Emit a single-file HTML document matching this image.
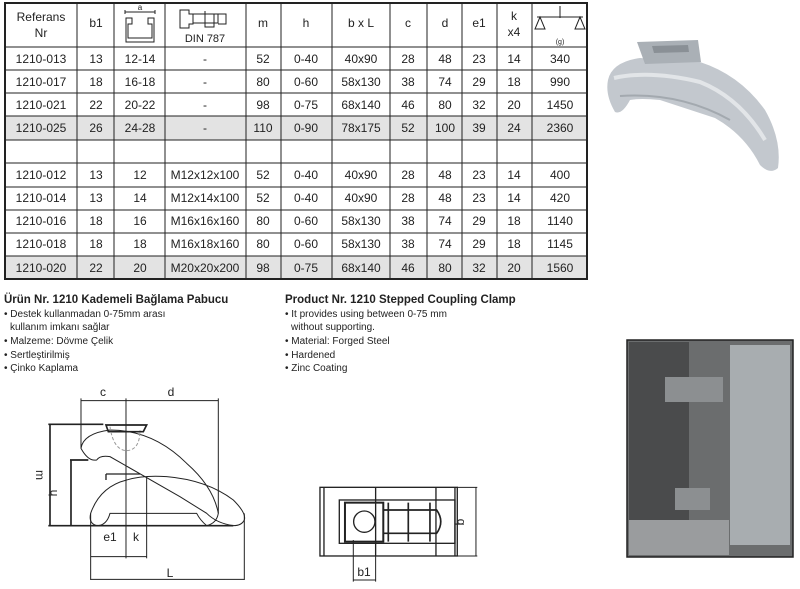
<!DOCTYPE html>
<html><head><meta charset="utf-8"><style>
html,body{margin:0;padding:0;background:#fff;width:800px;height:589px;overflow:hidden}
svg{display:block;font-family:"Liberation Sans",Arial,sans-serif}
</style></head><body>
<svg width="800" height="589" viewBox="0 0 800 589" xmlns="http://www.w3.org/2000/svg">
<rect x="5" y="116" width="582" height="24" fill="#e3e3e3"/>
<rect x="5" y="256" width="582" height="23" fill="#e3e3e3"/>
<g stroke="#222" stroke-width="1" fill="none">
<rect x="5" y="3" width="582" height="276" stroke-width="2"/>
<path d="M5 47H587M5 70H587M5 93H587M5 116H587M5 140H587M5 163H587M5 187H587M5 210H587M5 233H587M5 256H587"/>
<path d="M77 3V279M114 3V279M165 3V279M246 3V279M281 3V279M332 3V279M390 3V279M427 3V279M462 3V279M497 3V279M532 3V279" />
</g>
<g font-size="12" fill="#222" text-anchor="middle">
<text x="41" y="21">Referans</text><text x="41" y="37">Nr</text>
<text x="96" y="27">b1</text>
<text x="205" y="42" font-size="11">DIN 787</text>
<text x="263" y="27">m</text><text x="306" y="27">h</text><text x="361" y="27">b x L</text>
<text x="408" y="27">c</text><text x="445" y="27">d</text><text x="479" y="27">e1</text>
<text x="514" y="20">k</text><text x="514" y="36">x4</text>
<text x="560" y="44" font-size="7">(g)</text>
</g>
<g stroke="#222" fill="none" stroke-width="1">
<path d="M125 12H155M125 10V14M155 10V14"/>
<path d="M126 18H132V24H128V38H152V24H148V18H154V42H126Z"/>
<path d="M180 10H189V14H193V24H189V28H180Z M193 14H218V23H193 M205 11V27H214V14 M218 14H226V24H218"/>
<path d="M560 6V18M537 17H583M540 17L535 29H545Z M580 17L575 29H585Z"/>
</g>
<text x="140" y="10" font-size="8" text-anchor="middle" fill="#222">a</text>
<g font-size="12" fill="#222" text-anchor="middle">
<text y="63"><tspan x="41">1210-013</tspan><tspan x="96">13</tspan><tspan x="140">12-14</tspan><tspan x="205">-</tspan><tspan x="263">52</tspan><tspan x="306">0-40</tspan><tspan x="361">40x90</tspan><tspan x="408">28</tspan><tspan x="445">48</tspan><tspan x="479">23</tspan><tspan x="514">14</tspan><tspan x="560">340</tspan></text>
<text y="86"><tspan x="41">1210-017</tspan><tspan x="96">18</tspan><tspan x="140">16-18</tspan><tspan x="205">-</tspan><tspan x="263">80</tspan><tspan x="306">0-60</tspan><tspan x="361">58x130</tspan><tspan x="408">38</tspan><tspan x="445">74</tspan><tspan x="479">29</tspan><tspan x="514">18</tspan><tspan x="560">990</tspan></text>
<text y="109"><tspan x="41">1210-021</tspan><tspan x="96">22</tspan><tspan x="140">20-22</tspan><tspan x="205">-</tspan><tspan x="263">98</tspan><tspan x="306">0-75</tspan><tspan x="361">68x140</tspan><tspan x="408">46</tspan><tspan x="445">80</tspan><tspan x="479">32</tspan><tspan x="514">20</tspan><tspan x="560">1450</tspan></text>
<text y="132"><tspan x="41">1210-025</tspan><tspan x="96">26</tspan><tspan x="140">24-28</tspan><tspan x="205">-</tspan><tspan x="263">110</tspan><tspan x="306">0-90</tspan><tspan x="361">78x175</tspan><tspan x="408">52</tspan><tspan x="445">100</tspan><tspan x="479">39</tspan><tspan x="514">24</tspan><tspan x="560">2360</tspan></text>
<text y="179"><tspan x="41">1210-012</tspan><tspan x="96">13</tspan><tspan x="140">12</tspan><tspan x="205">M12x12x100</tspan><tspan x="263">52</tspan><tspan x="306">0-40</tspan><tspan x="361">40x90</tspan><tspan x="408">28</tspan><tspan x="445">48</tspan><tspan x="479">23</tspan><tspan x="514">14</tspan><tspan x="560">400</tspan></text>
<text y="202"><tspan x="41">1210-014</tspan><tspan x="96">13</tspan><tspan x="140">14</tspan><tspan x="205">M12x14x100</tspan><tspan x="263">52</tspan><tspan x="306">0-40</tspan><tspan x="361">40x90</tspan><tspan x="408">28</tspan><tspan x="445">48</tspan><tspan x="479">23</tspan><tspan x="514">14</tspan><tspan x="560">420</tspan></text>
<text y="225"><tspan x="41">1210-016</tspan><tspan x="96">18</tspan><tspan x="140">16</tspan><tspan x="205">M16x16x160</tspan><tspan x="263">80</tspan><tspan x="306">0-60</tspan><tspan x="361">58x130</tspan><tspan x="408">38</tspan><tspan x="445">74</tspan><tspan x="479">29</tspan><tspan x="514">18</tspan><tspan x="560">1140</tspan></text>
<text y="248"><tspan x="41">1210-018</tspan><tspan x="96">18</tspan><tspan x="140">18</tspan><tspan x="205">M16x18x160</tspan><tspan x="263">80</tspan><tspan x="306">0-60</tspan><tspan x="361">58x130</tspan><tspan x="408">38</tspan><tspan x="445">74</tspan><tspan x="479">29</tspan><tspan x="514">18</tspan><tspan x="560">1145</tspan></text>
<text y="272"><tspan x="41">1210-020</tspan><tspan x="96">22</tspan><tspan x="140">20</tspan><tspan x="205">M20x20x200</tspan><tspan x="263">98</tspan><tspan x="306">0-75</tspan><tspan x="361">68x140</tspan><tspan x="408">46</tspan><tspan x="445">80</tspan><tspan x="479">32</tspan><tspan x="514">20</tspan><tspan x="560">1560</tspan></text>
</g>
<!-- product photo -->
<g>
<path d="M608 80 Q612 62 640 58 L700 62 Q740 75 765 110 Q782 140 778 168 Q770 175 760 165 Q745 135 715 118 L660 100 Q640 98 630 100 Q622 115 615 112 Q605 95 608 80Z" fill="#c3c8ce"/>
<path d="M637 42 L698 40 L701 62 L645 64 Z" fill="#aab0b6"/>
<path d="M652 46 L688 45 L689 52 L654 53Z" fill="#8a9096"/>
<path d="M614 78 Q650 70 700 82 Q740 98 765 140" stroke="#e2e5e8" stroke-width="4" fill="none"/>
<path d="M620 96 Q680 92 730 120" stroke="#a3a9af" stroke-width="2" fill="none"/>
</g>
<g fill="#222" font-size="10">
<text x="4" y="303" font-size="11.5" font-weight="bold">Ürün Nr. 1210 Kademeli Bağlama Pabucu</text>
<text x="4" y="317">• Destek kullanmadan 0-75mm arası</text>
<text x="10" y="330">kullanım imkanı sağlar</text>
<text x="4" y="344">• Malzeme: Dövme Çelik</text>
<text x="4" y="358">• Sertleştirilmiş</text>
<text x="4" y="371">• Çinko Kaplama</text>
<text x="285" y="303" font-size="11.5" font-weight="bold">Product Nr. 1210 Stepped Coupling Clamp</text>
<text x="285" y="317">• It provides using between 0-75 mm</text>
<text x="291" y="330">without supporting.</text>
<text x="285" y="344">• Material:  Forged Steel</text>
<text x="285" y="358">• Hardened</text>
<text x="285" y="371">• Zinc Coating</text>
</g>
<!-- machine photo -->
<rect x="627" y="340" width="166" height="217" fill="#6b6d6e" stroke="#222" stroke-width="1.5"/>
<rect x="629" y="342" width="60" height="180" fill="#4a4b4c"/>
<rect x="730" y="345" width="60" height="200" fill="#a8adb0"/>
<rect x="665" y="377" width="58" height="25" fill="#8c8f91"/>
<rect x="675" y="488" width="35" height="22" fill="#8c8f91"/>
<rect x="629" y="520" width="100" height="35" fill="#9a9c9e"/>
<!-- side drawing -->
<g transform="translate(0,380) scale(0.3333)" stroke="#222" fill="none" stroke-width="3">
<path d="M243 55V205M655 55V400M243 62H655M378 55V535"/>
<path d="M145 133H310M145 437H700M150 133V437M210 240H265M213 240V437" stroke-width="5"/>
<path d="M318 135H440L430 155H325Z" stroke-width="5"/>
<path d="M243 205 Q250 160 330 150 Q460 150 560 250 Q640 320 655 400 Q650 430 620 437 Q600 420 590 400 H330 Q320 437 290 437 Q265 430 272 400 Q300 320 380 300 Q430 285 500 290 Q620 300 700 360 Q740 400 733 420 Q725 437 700 437 Q650 430 620 400 L540 350 L330 230 Q300 225 290 240 Q265 245 243 205Z" stroke-width="3"/>
<path d="M330 140 Q340 210 380 212 Q420 210 420 150" stroke="#999" stroke-dasharray="10 6"/>
<path d="M318 282H420M318 282V300" stroke-width="4"/>
<path d="M440 290V535"/>
<path d="M272 400V600M733 400V600M272 530H440M272 598H733" />
</g>
<!-- top view -->
<g transform="translate(0,380) scale(0.3333)" stroke="#222" fill="none" stroke-width="4">
<rect x="960" y="322" width="412" height="206"/>
<path d="M972 322V528M1127 322V528M1308 322V528M1365 322V528"/>
<rect x="1018" y="360" width="347" height="130"/>
<rect x="1035" y="368" width="115" height="117" stroke-width="6"/>
<circle cx="1093" cy="425" r="32"/>
<path d="M1150 390H1310 Q1335 425 1310 460H1150" stroke-width="5"/>
<path d="M1165 368V485M1225 368V485M1290 368V485" stroke-width="5"/>
<path d="M1372 322H1432M1372 528H1432M1428 322V528M1060 480V605M1127 528V605M1060 600H1127" stroke-width="3"/>
</g>
<g fill="#222" font-size="12" text-anchor="middle">
<text x="103" y="396">c</text><text x="171" y="396">d</text>
<text x="110" y="541">e1</text><text x="136" y="541">k</text><text x="170" y="577">L</text>
<text x="364" y="576">b1</text>
<text transform="translate(36,475) rotate(90)">m</text>
<text transform="translate(57,493) rotate(-90)">h</text>
<text transform="translate(464,522) rotate(-90)">b</text>
</g>
</svg>
</body></html>
